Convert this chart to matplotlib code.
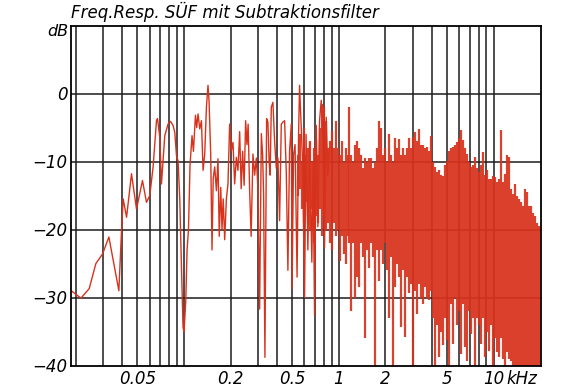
import numpy as np
import matplotlib
matplotlib.use("Agg")
import matplotlib.pyplot as plt
from matplotlib.ticker import NullLocator, FixedLocator, FixedFormatter

# ---------------- data ----------------
# Low / mid frequency trace (kHz, dB)
lf_freq = [0.0189, 0.02156, 0.02438, 0.02694, 0.02975, 0.03268, 0.03791, 0.03946,
           0.04042, 0.04251, 0.04577, 0.04688, 0.04930, 0.05388, 0.05718, 0.06007,
           0.0631, 0.06634, 0.06734, 0.06968, 0.07146, 0.07507, 0.07883, 0.08172,
           0.08492, 0.0871, 0.08933, 0.09149, 0.09382, 0.09621, 0.09852, 0.1000,
           0.1026, 0.1046, 0.1068, 0.1093, 0.1126, 0.1150, 0.1185, 0.1207, 0.1231,
           0.1263, 0.1295, 0.1327, 0.1360, 0.1395, 0.1428, 0.1450, 0.1487, 0.1516,
           0.1543, 0.1578, 0.1618, 0.1657, 0.1688, 0.1726, 0.1759, 0.1790, 0.1831,
           0.1877, 0.1922, 0.1971, 0.2021, 0.2071, 0.2123, 0.2178, 0.2230, 0.2287,
           0.2339, 0.2391, 0.2445, 0.2500, 0.2549, 0.2595, 0.2653, 0.2713, 0.2787,
           0.2858, 0.2932, 0.3002, 0.3078, 0.3158, 0.3219, 0.3267, 0.3331, 0.3366,
           0.3416, 0.3482, 0.3546, 0.3598, 0.3663, 0.3751, 0.3847, 0.3945, 0.4041,
           0.4143, 0.4249, 0.4351, 0.4463, 0.4576, 0.4688, 0.4807, 0.4930, 0.4989,
           0.5100, 0.5215, 0.5374, 0.5495, 0.5577, 0.5702, 0.5831, 0.6007, 0.6143,
           0.6310, 0.6471, 0.6694, 0.6817, 0.6970, 0.7149, 0.7321, 0.7507, 0.7699,
           0.7883, 0.8086, 0.8293, 0.8492, 0.8710]
lf_db = [-29.1, -30.1, -28.7, -25.0, -23.6, -21.1, -29.0, -20.1,
         -15.5, -18.2, -11.8, -13.5, -17.0, -12.8, -16.0, -15.0,
         -10.8, -4.0, -3.7, -6.4, -13.3, -6.2, -4.5, -4.1,
         -4.7, -5.7, -9.1, -9.9, -15.5, -25.5, -34.4, -35.1,
         -30.4, -23.0, -20.0, -10.5, -6.2, -8.5, -3.2, -5.0, -3.0,
         -5.2, -4.0, -11.3, -8.9, -2.0, 1.2, -1.0, -9.0, -23.0,
         -12.5, -10.8, -14.3, -9.6, -21.0, -13.8, -20.0, -15.5, -21.5,
         -15.5, -13.3, -4.5, -8.4, -7.2, -13.3, -9.4, -11.3, -5.6,
         -14.0, -8.5, -13.5, -4.0, -7.5, -4.5, -14.3, -21.0, -8.9,
         -12.0, -9.5, -14.0, -31.7, -5.9, -9.0, -15.0, -38.8, -23.6,
         -3.7, -4.2, -10.0, -12.0, -2.0, -1.3, -7.0, -11.0, -9.5,
         -18.7, -4.5, -4.2, -4.0, -11.5, -26.0, -8.4, -4.5, -28.7,
         -9.0, -7.5, -27.0, -6.0, 1.2, -4.4, -10.0, -30.0, -6.0,
         -23.0, -7.2, -24.8, -10.0, -32.6, -4.7, -19.6, -4.0, -1.0,
         -6.0, -22.6, -3.5, -12.0, -8.0]

# Dense high-frequency part: per-column upper and lower extent (kHz, dB, dB)
hf_freq = [0.5414, 0.5577, 0.5745, 0.5919, 0.6097, 0.6281, 0.6471, 0.6666, 0.6867, 0.7074,
           0.7287, 0.7507, 0.7733, 0.7966, 0.8207, 0.8454, 0.8710, 0.8972, 0.9243, 0.9522,
           0.9809, 1.0104, 1.0409, 1.0723, 1.1047, 1.1380, 1.1723, 1.2077, 1.2441, 1.2817,
           1.3203, 1.3602, 1.4012, 1.4435, 1.4870, 1.5319, 1.5781, 1.6257, 1.6747, 1.7253,
           1.7773, 1.8309, 1.8862, 1.9431, 2.0017, 2.0621, 2.1243, 2.1884, 2.2544, 2.3224,
           2.3925, 2.4647, 2.5390, 2.6156, 2.6946, 2.7759, 2.8596, 2.9459, 3.0348, 3.1263,
           3.2207, 3.3178, 3.4179, 3.5211, 3.6273, 3.7367, 3.8495, 3.9656, 4.0853, 4.2085,
           4.3355, 4.4663, 4.6011, 4.7399, 4.8829, 5.0302, 5.1820, 5.3383, 5.4994, 5.6653,
           5.8363, 6.0124, 6.1938, 6.3806, 6.5731, 6.7715, 6.9758, 7.1863, 7.4031, 7.6264,
           7.8565, 8.0936, 8.3378, 8.5893, 8.8485, 9.1154, 9.3905, 9.6738, 9.9657, 10.266,
           10.576, 10.895, 11.224, 11.563, 11.911, 12.271, 12.641, 13.022, 13.415, 13.820,
           14.237, 14.667, 15.109, 15.565, 16.035, 16.519, 17.017, 17.531, 18.060, 18.605,
           19.166, 19.744]
hf_hi = [-9.0, -6.0, -10.0, -5.0, -9.0, -8.0, -7.0, -10.0, -8.0, -7.0,
         -9.0, -5.0, -1.5, -2.0, -4.0, -8.0, -7.0, -5.5, -8.0, -4.0,
         -8.0, -9.0, -7.0, -10.0, -8.0, -9.0, -2.0, -9.0, -10.0, -7.5,
         -7.0, -8.0, -9.0, -11.0, -9.5, -10.0, -9.5, -9.5, -11.0, -10.0,
         -8.0, -4.0, -5.0, -9.0, -8.0, -10.0, -6.0, -9.0, -10.0, -6.5,
         -8.0, -6.7, -9.0, -8.0, -9.0, -8.0, -6.5, -8.0, -6.4, -5.7,
         -7.0, -5.2, -7.5, -7.6, -8.0, -7.9, -8.5, -6.2, -10.0, -10.8,
         -11.5, -11.3, -12.0, -12.1, -10.5, -9.9, -8.5, -8.0, -7.9, -7.5,
         -7.1, -6.5, -5.4, -6.9, -8.0, -8.9, -10.0, -10.8, -10.5, -9.4,
         -11.0, -11.5, -10.5, -8.6, -12.0, -11.3, -12.5, -12.5, -12.1, -12.3,
         -13.0, -12.5, -5.4, -13.0, -11.8, -9.1, -9.4, -14.0, -14.8, -13.3,
         -15.0, -15.5, -16.0, -16.5, -14.0, -14.5, -16.5, -16.5, -17.5, -18.0,
         -19.0, -19.5]
hf_lo = [-15.0, -14.0, -17.0, -19.0, -16.0, -18.0, -20.0, -17.0, -22.0, -18.0,
         -19.0, -17.0, -21.0, -18.0, -20.0, -19.0, -22.0, -23.0, -19.0, -21.0,
         -20.0, -24.6, -21.0, -23.6, -25.0, -21.0, -22.0, -32.0, -22.0, -30.0,
         -27.0, -28.5, -22.0, -24.0, -36.0, -23.0, -25.6, -22.0, -24.0, -40.0,
         -23.0, -27.5, -23.0, -25.0, -22.0, -26.0, -33.0, -24.0, -40.0, -28.5,
         -25.0, -27.0, -34.4, -26.0, -35.8, -27.0, -29.4, -28.0, -40.0, -29.0,
         -32.4, -28.0, -30.0, -31.0, -28.5, -30.0, -30.4, -29.0, -33.0, -40.0,
         -34.0, -38.8, -35.0, -37.0, -33.0, -36.3, -40.0, -31.0, -36.8, -30.0,
         -34.0, -32.0, -38.3, -31.0, -37.3, -39.3, -32.0, -35.4, -33.0, -40.0,
         -33.0, -34.0, -36.8, -33.0, -38.8, -35.0, -37.8, -34.0, -40.0, -36.0,
         -38.0, -38.8, -36.0, -39.0, -40.0, -38.0, -39.0, -39.3, -40.0, -40.0,
         -40.0, -40.0, -40.0, -40.0, -40.0, -40.0, -40.0, -40.0, -40.0, -40.0,
         -40.0, -40.0]

# axis / labels
x_tick_vals = [0.05, 0.2, 0.5, 1, 2, 5, 10]
x_tick_text = ["0.05", "0.2", "0.5", "1", "2", "5", "10"]
y_tick_vals = [0, -10, -20, -30, -40]
y_tick_text = ["0", "\u221210", "\u221220", "\u221230", "\u221240"]
title = "Freq.Resp. S\u00dcF mit Subtraktionsfilter"

RED = "#d8321c"
GRID = "#1c1c1c"

# ---------------- figure ----------------
fig = plt.figure(figsize=(5.8, 3.87), dpi=100)
ax = fig.add_axes([71 / 580, 1 - 365.5 / 387, 469.5 / 580, 340 / 387])
ax.set_xscale("log")
ax.set_xlim(0.0186, 20.1)
ax.set_ylim(-40, 10)

# grid lines (log decades, 1..9 in each)
grid_f = [m * 10.0 ** e for e in (-2, -1, 0, 1) for m in range(1, 10)]
grid_f = [g for g in grid_f if 0.0195 < g < 19.5]
for g in grid_f:
    ax.axvline(g, color=GRID, lw=1.1, zorder=1)
for yv in (-30, -20, -10, 0):
    ax.axhline(yv, color=GRID, lw=1.1, zorder=1)

# data
ax.vlines(hf_freq, hf_lo, hf_hi, color=RED, lw=1.6, alpha=0.92, zorder=2)
ax.plot(lf_freq, lf_db, color=RED, lw=1.0, zorder=3)

# ticks & labels
ax.xaxis.set_minor_locator(NullLocator())
ax.xaxis.set_major_locator(FixedLocator(x_tick_vals))
ax.xaxis.set_major_formatter(FixedFormatter(x_tick_text))
ax.yaxis.set_major_locator(FixedLocator(y_tick_vals))
ax.yaxis.set_major_formatter(FixedFormatter(y_tick_text))
ax.tick_params(axis="both", length=0, labelsize=12)
ax.tick_params(axis="x", pad=3.5)
ax.tick_params(axis="y", pad=2.5)
for lab in ax.get_xticklabels() + ax.get_yticklabels():
    lab.set_fontstyle("italic")

for s in ax.spines.values():
    s.set_color("black")
    s.set_linewidth(1.3)
    s.set_zorder(5)

ax.annotate("kHz", xy=(10, 0), xycoords=("data", "axes fraction"),
            xytext=(9.5, -3.5), textcoords="offset points",
            ha="left", va="top", fontsize=12, style="italic")

fig.text(71 / 580, 1 - 18 / 387, title, fontsize=12, style="italic",
         ha="left", va="baseline")
fig.text(68 / 580, 1 - 32 / 387, "dB", fontsize=11.5, style="italic",
         ha="right", va="center")

fig.savefig("out.png", dpi=100)
